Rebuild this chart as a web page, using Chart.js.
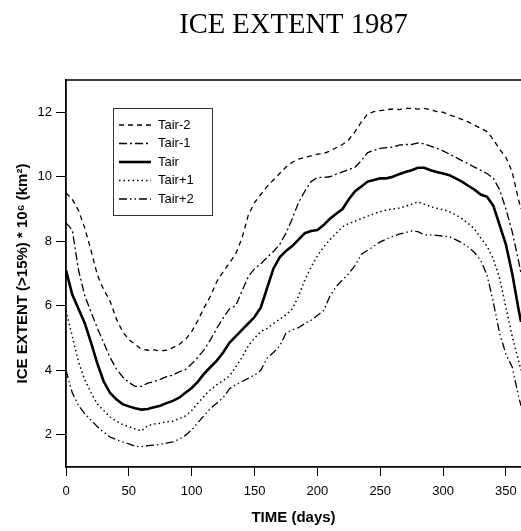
<!DOCTYPE html>
<html><head><meta charset="utf-8">
<script src="https://cdn.jsdelivr.net/npm/chart.js@4/dist/chart.umd.min.js"></script>
<style>html,body{margin:0;padding:0;background:#fff;overflow:hidden}</style>
</head><body>
<canvas id="c" width="521" height="531"></canvas>
<script>
const chartTitle = "ICE EXTENT 1987";
const xTitle = "TIME (days)";
const yTitle = "ICE EXTENT (>15%) * 10\u2076 (km\u00B2)";
const seriesNames = ["Tair-2", "Tair-1", "Tair", "Tair+1", "Tair+2"];
const xTicks = [0, 50, 100, 150, 200, 250, 300, 350];
const yTicks = [2, 4, 6, 8, 10, 12];

const days = [0,5,10,15,20,25,30,35,40,45,50,55,60,65,70,75,80,85,90,95,100,105,110,115,120,125,130,135,140,145,150,155,160,165,170,175,180,185,190,195,200,205,210,215,220,225,230,235,240,245,250,255,260,265,270,275,280,285,290,295,300,305,310,315,320,325,330,335,340,345,350,355,360,362];

const tairM2 = [9.5,9.3,8.95,8.4,7.7,6.95,6.5,6.15,5.6,5.2,4.95,4.8,4.65,4.62,4.63,4.6,4.62,4.7,4.8,4.95,5.2,5.55,5.95,6.3,6.75,7.05,7.33,7.6,8.1,8.8,9.2,9.45,9.7,9.9,10.1,10.3,10.45,10.55,10.6,10.65,10.7,10.72,10.8,10.9,11.0,11.15,11.4,11.7,11.95,12.02,12.05,12.08,12.1,12.08,12.12,12.12,12.1,12.12,12.08,12.02,12.0,11.92,11.85,11.78,11.7,11.6,11.5,11.4,11.15,10.85,10.6,10.15,9.3,9.0];

const tairM1 = [8.57,8.35,7.1,6.3,5.8,5.3,4.85,4.4,4.05,3.8,3.62,3.5,3.5,3.6,3.65,3.72,3.8,3.85,3.95,4.02,4.2,4.4,4.65,4.95,5.3,5.62,5.9,6.0,6.45,6.9,7.15,7.3,7.5,7.68,7.9,8.25,8.7,9.2,9.55,9.85,9.98,9.98,10.0,10.08,10.15,10.22,10.3,10.5,10.75,10.82,10.88,10.9,10.92,10.98,11.0,11.0,11.05,11.02,10.95,10.88,10.8,10.7,10.6,10.5,10.4,10.3,10.2,10.1,9.95,9.6,9.0,8.3,7.4,7.0];

const tair = [7.1,6.35,5.9,5.45,4.85,4.2,3.65,3.3,3.1,2.95,2.88,2.82,2.78,2.8,2.85,2.9,2.98,3.05,3.15,3.3,3.45,3.65,3.9,4.1,4.3,4.55,4.85,5.05,5.25,5.45,5.65,5.95,6.55,7.15,7.5,7.7,7.85,8.05,8.25,8.32,8.35,8.5,8.7,8.85,9.0,9.3,9.55,9.7,9.85,9.9,9.95,9.95,10.0,10.08,10.15,10.2,10.28,10.28,10.2,10.15,10.1,10.05,9.95,9.85,9.72,9.6,9.45,9.38,9.1,8.5,7.9,7.0,5.9,5.5];

const tairP1 = [5.85,5.05,4.25,3.7,3.3,2.95,2.75,2.55,2.42,2.32,2.25,2.18,2.12,2.28,2.33,2.36,2.4,2.42,2.5,2.58,2.75,2.98,3.2,3.4,3.55,3.68,3.82,4.1,4.4,4.75,5.0,5.2,5.3,5.45,5.58,5.72,5.9,6.3,6.8,7.2,7.55,7.82,8.05,8.25,8.45,8.55,8.62,8.7,8.78,8.85,8.92,8.97,9.0,9.03,9.08,9.15,9.22,9.15,9.08,9.02,8.98,8.92,8.82,8.7,8.55,8.38,8.1,7.85,7.45,6.85,5.95,5.05,4.3,4.0];

const tairP2 = [4.0,3.3,2.9,2.65,2.45,2.25,2.08,1.93,1.85,1.78,1.72,1.64,1.63,1.66,1.68,1.7,1.74,1.78,1.86,1.98,2.15,2.38,2.6,2.82,2.98,3.15,3.42,3.55,3.65,3.75,3.85,4.0,4.38,4.55,4.75,5.15,5.25,5.32,5.45,5.55,5.7,5.85,6.3,6.6,6.8,7.0,7.25,7.6,7.72,7.85,7.98,8.07,8.15,8.22,8.27,8.32,8.3,8.2,8.2,8.18,8.16,8.14,8.05,7.95,7.82,7.65,7.4,6.95,6.1,5.15,4.5,4.1,3.2,2.9];

const seriesValues = [tairM2, tairM1, tair, tairP1, tairP2];
const seriesDash = [[5,4],[8,3,2,3],[],[1.5,3],[8,3,1.5,3,1.5,3]];
const seriesWidth = [1.3,1.3,2.6,1.5,1.3];

const SANS = "'Liberation Sans', Arial, sans-serif";

const datasets = seriesNames.map((name, k) => ({
  label: name,
  data: days.map((d, i) => ({x: d, y: seriesValues[k][i]})),
  borderColor: '#000',
  borderWidth: seriesWidth[k],
  borderDash: seriesDash[k],
  pointRadius: 0,
  tension: 0,
  fill: false
}));

const decorPlugin = {
  id: 'decor',
  afterDraw(chart) {
    const ctx = chart.ctx, a = chart.chartArea;
    ctx.save();
    ctx.strokeStyle = '#000'; ctx.lineWidth = 1.5; ctx.setLineDash([]);
    ctx.beginPath(); ctx.moveTo(a.left, a.top); ctx.lineTo(a.right, a.top); ctx.stroke();
    ctx.fillStyle = '#000';
    ctx.font = "28.6px 'Liberation Serif', 'Times New Roman', serif";
    ctx.textAlign = 'center'; ctx.textBaseline = 'alphabetic';
    ctx.fillText(chartTitle, (a.left + a.right) / 2, 33);
    const bx = a.left + 47, by = a.top + 28, bw = 99, bh = 107;
    ctx.lineWidth = 1; ctx.strokeStyle = '#333';
    ctx.strokeRect(bx + 0.5, by + 0.5, bw, bh);
    ctx.font = "13px " + SANS;
    ctx.textAlign = 'left'; ctx.textBaseline = 'middle';
    chart.data.datasets.forEach((ds, i) => {
      const y = by + 17 + i * 18.5;
      ctx.beginPath();
      ctx.setLineDash(ds.borderDash || []);
      ctx.lineWidth = ds.borderWidth;
      ctx.strokeStyle = '#000';
      ctx.moveTo(bx + 6, y); ctx.lineTo(bx + 38, y); ctx.stroke();
      ctx.setLineDash([]);
      ctx.fillStyle = '#000';
      ctx.fillText(ds.label, bx + 45, y);
    });
    ctx.restore();
  }
};

new Chart(document.getElementById('c'), {
  type: 'line',
  data: { datasets },
  plugins: [decorPlugin],
  options: {
    responsive: false,
    animation: false,
    devicePixelRatio: 1,
    layout: { padding: { top: 80, left: 0, right: 0, bottom: 0 } },
    plugins: { legend: { display: false }, tooltip: { enabled: false }, title: { display: false } },
    scales: {
      x: {
        type: 'linear', min: 0, max: 362,
        afterBuildTicks: (s) => { s.ticks = xTicks.map(v => ({ value: v })); },
        afterFit: (s) => { s.height = 64; s.paddingLeft = 0; s.paddingRight = 0; },
        grid: { drawOnChartArea: false, drawTicks: true, tickLength: 9, color: '#000', lineWidth: 1 },
        border: { display: true, color: '#000', width: 1.8 },
        ticks: { color: '#000', font: { family: SANS, size: 13 }, padding: 8, maxRotation: 0 },
        title: { display: true, text: xTitle, color: '#000', font: { family: SANS, size: 15, weight: 'bold' }, padding: { top: 4, bottom: 4 } }
      },
      y: {
        type: 'linear', min: 1, max: 13,
        afterBuildTicks: (s) => { s.ticks = yTicks.map(v => ({ value: v })); },
        afterFit: (s) => { s.width = 66; s.paddingTop = 0; s.paddingBottom = 0; },
        grid: { drawOnChartArea: false, drawTicks: true, tickLength: 10, color: '#000', lineWidth: 1 },
        border: { display: true, color: '#000', width: 1.8 },
        ticks: { color: '#000', font: { family: SANS, size: 13 }, padding: 4 },
        title: { display: true, text: yTitle, color: '#000', font: { family: SANS, size: 15, weight: 'bold' }, padding: { top: 14, bottom: 0 } }
      }
    }
  }
});
</script>
</body></html>
